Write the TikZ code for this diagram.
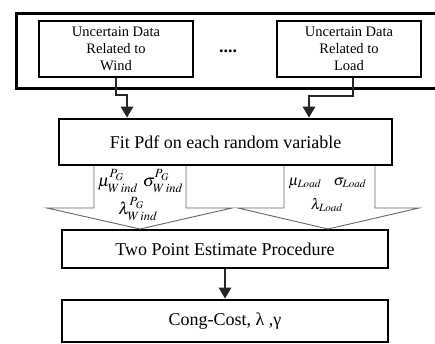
\documentclass[tikz,border=0pt]{standalone}
\usepackage{mathptmx}
\usepackage{fontspec}
\setmainfont{Liberation Serif}
\usetikzlibrary{arrows.meta}
\begin{document}
\begin{tikzpicture}[
    x=1pt, y=-1pt,
    font=\fontsize{14.5}{17}\selectfont,
    box/.style={draw, line width=2pt, fill=white, align=center, inner sep=0pt},
    stagebox/.style={draw, line width=2.6pt, fill=white, inner sep=0pt, font=\fontsize{18}{20}\selectfont},
    arr/.style={-{Triangle[width=12pt,length=11pt]}, line width=2.6pt, draw=black!85},
    blockarr/.style={draw=black!60, line width=0.9pt, fill=white},
    lab/.style={inner sep=0pt, font=\fontsize{15}{17}\selectfont},
    biglab/.style={lab, font=\fontsize{17}{19}\selectfont},
  ]
  \useasboundingbox (0,0) rectangle (435,343);
  % obere Gruppe mit den unsicheren Daten
  \node[draw, line width=3pt, minimum width=424pt, minimum height=75pt, inner sep=0pt] (frame) at (228,50.5) {};
  \node[box, minimum width=154pt, minimum height=56pt] (wind) at (116,49) {Uncertain Data\\Related to\\Wind};
  \node[box, minimum width=144pt, minimum height=56pt] (load) at (349,49) {Uncertain Data\\Related to\\Load};
  \node[font=\fontsize{18}{20}\selectfont\bfseries] (dots) at (228,51) {....};
  % Verarbeitungsschritte
  \node[stagebox, minimum width=333pt, minimum height=46pt] (fit) at (225.5,142) {Fit Pdf on each random variable};
  \node[stagebox, minimum width=326pt, minimum height=38pt] (tpe) at (225,249) {Two Point Estimate Procedure};
  \node[stagebox, minimum width=326pt, minimum height=42pt] (cost) at (225,321) {Cong-Cost, λ ,γ};
  % Verbindungen
  \coordinate (wind-bend) at (127,95);
  \coordinate (load-bend) at (309,96);
  \draw[arr] (wind.south) |- (wind-bend) -- (wind-bend |- fit.north);
  \draw[arr] ([xshift=4pt]load.south) |- (load-bend) -- (load-bend |- fit.north);
  \draw[arr] (tpe.south) -- (cost.north);
  % Blockpfeile mit den Parametern
  \draw[blockarr] (94,166) -- (94,208) -- (47,208) -- (140,229) -- (232,208) -- (186,208) -- (186,166);
  \draw[blockarr] (284,166) -- (284,208) -- (238,208) -- (328,229) -- (419,208) -- (375,208) -- (375,166);
  \node[biglab] (wind-mu) at (118,181) {$\mu^{P_G}_{W\,ind}$};
  \node[biglab] (wind-sigma) at (163,181) {$\sigma^{P_G}_{W\,ind}$};
  \node[biglab] (wind-lam) at (138,209) {$\lambda^{P_G}_{W\,ind}$};
  \node[lab] (load-mu) at (305,183) {$\mu_{Load}$};
  \node[lab] (load-sigma) at (350,183) {$\sigma_{Load}$};
  \node[lab] (load-lam) at (327,205) {$\lambda_{Load}$};
\end{tikzpicture}
\end{document}
